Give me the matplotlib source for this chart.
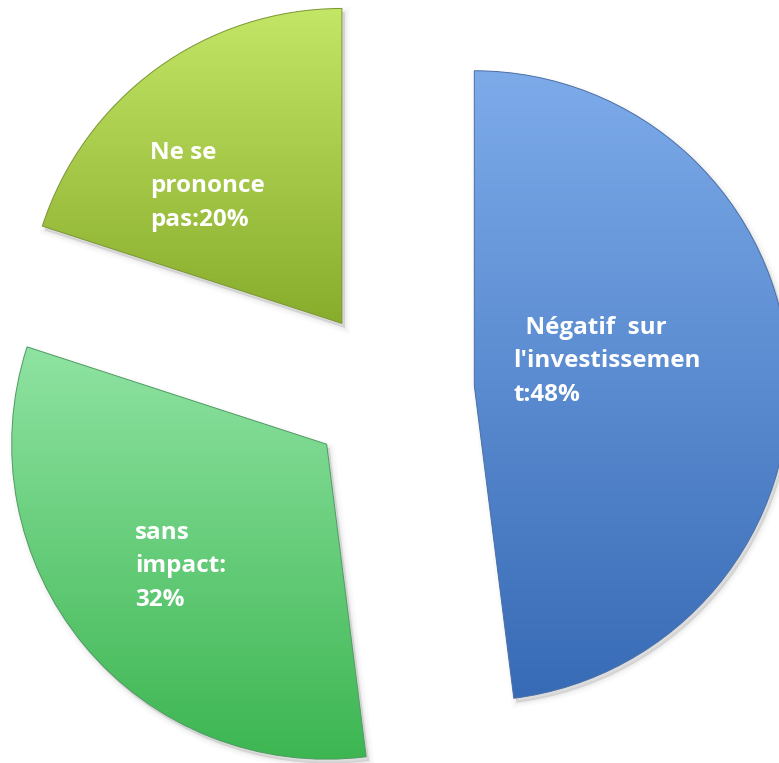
import numpy as np
import matplotlib.pyplot as plt
from matplotlib.colors import LinearSegmentedColormap
from matplotlib.patches import Shadow

labels = ["  Négatif  sur\nl'investissemen\nt:48%", "sans\nimpact:\n32%", "Ne se\nprononce\npas:20%"]
values = [48, 32, 20]
top_colors = ['#7dabea', '#8fe3a2', '#c4e666']
bottom_colors = ['#386bb6', '#3db652', '#88ac2c']
edge_colors = ['#4a6fa5', '#4f9a62', '#7a9634']
label_px = [(513, 316), (135, 521), (150, 141)]  # top-left of each text block, pixels

W, H = 779, 763
R = 315          # pie radius in pixels
CX, CY = 391, 391  # pie centre in pixels (from top-left)

fig = plt.figure(figsize=(W / 100, H / 100), dpi=100)
ax = fig.add_axes([0, 0, 1, 1])

wedges, _ = ax.pie(values, startangle=90, counterclock=False,
                   explode=[0.265] * 3, radius=1,
                   wedgeprops=dict(linewidth=0.7))

ax.set_xlim(-CX / R, (W - CX) / R)
ax.set_ylim(-(H - CY) / R, CY / R)
ax.set_aspect('equal')
ax.axis('off')

grad = np.linspace(0, 1, 256).reshape(-1, 1)
for w, c1, c2, ec in zip(wedges, top_colors, bottom_colors, edge_colors):
    # soft shadow
    for lw, a in [(8, 0.015), (5, 0.02), (2.5, 0.03), (0.5, 0.04)]:
        s = Shadow(w, 2 / R, -3 / R)
        s.set_facecolor('black')
        s.set_edgecolor('black')
        s.set_linewidth(lw)
        s.set_alpha(a)
        s.set_zorder(0.5)
        ax.add_patch(s)
    w.set_facecolor('none')
    w.set_edgecolor(ec)
    w.set_zorder(3)
    ext = w.get_path().get_extents()
    cmap = LinearSegmentedColormap.from_list('g', [c1, c2])
    im = ax.imshow(grad, cmap=cmap, aspect='auto', origin='upper',
                   extent=[ext.x0, ext.x1, ext.y0, ext.y1], zorder=2)
    im.set_clip_path(w)

ax.set_xlim(-CX / R, (W - CX) / R)
ax.set_ylim(-(H - CY) / R, CY / R)

for lab, (px, py) in zip(labels, label_px):
    ax.text(px / W, 1 - py / H, lab, transform=ax.transAxes,
            ha='left', va='top', color='white', fontsize=17.5,
            fontweight='bold', family='Open Sans', linespacing=1.52,
            zorder=5)

fig.savefig('out.png', dpi=100)
